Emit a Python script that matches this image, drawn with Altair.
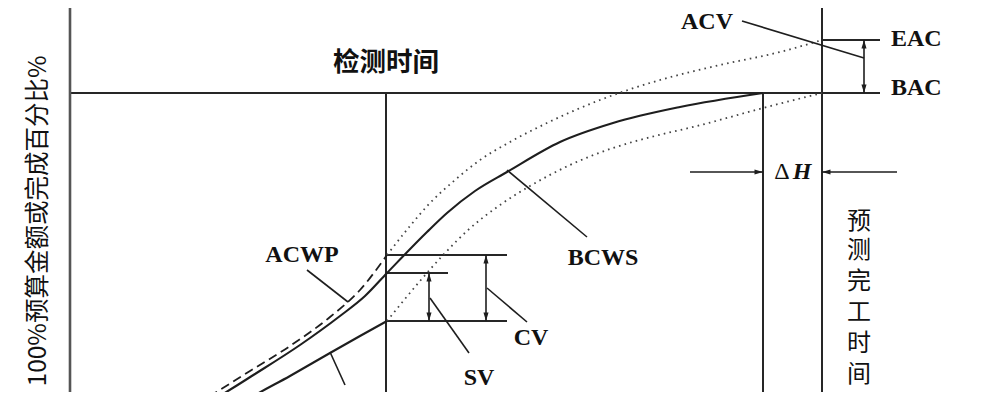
import altair as alt
import pandas as pd

# Schematic earned-value chart.
# t = schedule units (0 at the vertical axis), v = cost units (BAC = 307, EAC = 360)
T_CHECK, T_PLAN, T_FORECAST, T_RIGHT = 316, 693, 752, 810
V_BAC, V_EAC, V_TOP, V_BOTTOM = 307, 360, 395, -10

# cumulative curves
bcws_t = [125, 143, 185, 230, 270, 295, 317, 357, 377, 405, 437, 490, 543, 610, 693]
bcws_v = [-10, 0, 26, 55, 84, 104, 127, 168, 187, 209, 228, 258, 277, 293, 307]
acwp_t = [115, 133, 180, 220, 260, 290, 317]
acwp_v = [-10, 0, 29, 54, 83, 110, 145]
bcwp_t = [162, 177, 220, 260, 290, 317]
bcwp_v = [-10, 0, 24, 47, 64, 79]
# forecasts (dotted)
eac_fc_t = [317, 340, 360, 385, 410, 440, 477, 530, 590, 650, 710, 752]
eac_fc_v = [145, 174, 197, 220, 240, 258, 277, 300, 320, 335, 348, 360]
bac_fc_t = [317, 350, 375, 397, 430, 460, 500, 543, 585, 627, 693, 752]
bac_fc_v = [79, 119, 147, 169, 195, 214, 235, 252, 264, 274, 292, 307]

# structural lines: (name, t1, v1, t2, v2)
frame = [
    ("bac", 0, V_BAC, T_RIGHT, V_BAC),
    ("check", T_CHECK, V_BAC, T_CHECK, V_BOTTOM),
    ("plan", T_PLAN, V_BAC, T_PLAN, V_BOTTOM),
    ("forecast", T_FORECAST, V_TOP, T_FORECAST, V_BOTTOM),
    ("eac", T_FORECAST, V_EAC, T_RIGHT, V_EAC),
    ("lvl_acwp", 317, 145, 437, 145),
    ("lvl_bcws", 317, 127, 378, 127),
    ("lvl_bcwp", 317, 79, 437, 79),
]
axis_line = [("yaxis", 0, V_TOP, 0, V_BOTTOM)]
# arrow shafts and leader lines
thin = [
    ("ar_eac", 794, V_EAC, 794, V_BAC),
    ("ar_sv", 359, 127, 359, 79),
    ("ar_cv", 416, 145, 416, 79),
    ("ar_dh1", 620, 228, T_PLAN, 228),
    ("ar_dh2", 827, 228, T_FORECAST, 228),
    ("ld_acv", 672, 379, 794, 342),
    ("ld_acwp", 237, 130, 278, 98),
    ("ld_bcws", 437, 230, 517, 163),
    ("ld_sv", 360, 102, 399, 47),
    ("ld_cv", 417, 112, 457, 78),
    ("ld_bcwp", 260, 48, 275, 15),
]
# arrow heads: tip position and direction (0 up, 90 right, 180 down, 270 left)
head_t = [794, 794, 359, 359, 416, 416, T_PLAN, T_FORECAST]
head_v = [V_EAC, V_BAC, 127, 79, 145, 79, 228, 228]
head_a = [0, 180, 0, 180, 0, 180, 90, 270]

# labels
lab_text = ["ACV", "ACWP", "BCWS", "SV", "CV", "BCWP"]
lab_t = [637, 232, 533, 409, 461, 270]
lab_v = [378, 145, 142, 22, 62, -4]
side_text = ["EAC", "BAC"]
side_t = [821, 821]
side_v = [361, 312]
vert_chars = list("预测完工时间")
vert_v = [178, 149, 118, 87, 56, 25]

rows = []
def add(name, ts, vs, kind):
    for i, (t, v) in enumerate(zip(ts, vs)):
        rows.append({"id": name, "o": i, "t": t, "v": v, "kind": kind})

add("bcws", bcws_t, bcws_v, "curve")
add("bcwp", bcwp_t, bcwp_v, "curve")
add("acwp", acwp_t, acwp_v, "dash")
add("eacfc", eac_fc_t, eac_fc_v, "dot")
add("bacfc", bac_fc_t, bac_fc_v, "dot")
for name, t1, v1, t2, v2 in frame:
    add(name, [t1, t2], [v1, v2], "frame")
for name, t1, v1, t2, v2 in axis_line:
    add(name, [t1, t2], [v1, v2], "axis")
for name, t1, v1, t2, v2 in thin:
    add(name, [t1, t2], [v1, v2], "thin")
lines = pd.DataFrame(rows)

X = alt.Scale(domain=[-62, 919], nice=False, zero=False)
Y = alt.Scale(domain=[8, 392], nice=False, zero=False)
enc = dict(
    x=alt.X("t:Q", scale=X, axis=None),
    y=alt.Y("v:Q", scale=Y, axis=None),
    detail="id:N",
    order="o:Q",
)
INK = "#1e1e1e"

base = alt.Chart(lines)
frame_l = base.transform_filter(alt.datum.kind == "frame").mark_line(
    color="#262626", strokeWidth=2, clip=True).encode(**enc)
axis_l = base.transform_filter(alt.datum.kind == "axis").mark_line(
    color="#555555", strokeWidth=2.6, clip=True).encode(**enc)
curve_l = base.transform_filter(alt.datum.kind == "curve").mark_line(
    color=INK, strokeWidth=2.1, interpolate="monotone", clip=True).encode(**enc)
dash_l = base.transform_filter(alt.datum.kind == "dash").mark_line(
    color=INK, strokeWidth=1.8, strokeDash=[9, 5], interpolate="monotone", clip=True).encode(**enc)
dot_l = base.transform_filter(alt.datum.kind == "dot").mark_line(
    color="#444444", strokeWidth=1.8, strokeDash=[1.6, 4.2], interpolate="monotone", clip=True).encode(**enc)
thin_l = base.transform_filter(alt.datum.kind == "thin").mark_line(
    color=INK, strokeWidth=1.6, clip=True).encode(**enc)

heads = alt.Chart(pd.DataFrame({"t": head_t, "v": head_v, "a": head_a})).mark_point(
    shape="M0,0L-0.6,2L0.6,2Z", filled=True, size=72, color=INK, opacity=1, strokeWidth=0
).encode(
    x=alt.X("t:Q", scale=X, axis=None),
    y=alt.Y("v:Q", scale=Y, axis=None),
    angle=alt.Angle("a:Q", scale=None),
)

SERIF = "Liberation Serif"
CJK = "Noto Sans CJK SC"
txt_enc = dict(x=alt.X("t:Q", scale=X, axis=None), y=alt.Y("v:Q", scale=Y, axis=None), text="s:N")

labels = alt.Chart(pd.DataFrame({"t": lab_t, "v": lab_v, "s": lab_text})).mark_text(
    font=SERIF, fontWeight="bold", fontSize=24, color="#111111", baseline="middle", align="center"
).encode(**txt_enc)
side = alt.Chart(pd.DataFrame({"t": side_t, "v": side_v, "s": side_text})).mark_text(
    font=SERIF, fontWeight="bold", fontSize=24, color="#111111", baseline="middle", align="left"
).encode(**txt_enc)
delta = alt.Chart(pd.DataFrame({"t": [712], "v": [228], "s": ["Δ"]})).mark_text(
    font=SERIF, fontSize=24, color="#111111", baseline="middle", align="center"
).encode(**txt_enc)
hsym = alt.Chart(pd.DataFrame({"t": [732], "v": [228], "s": ["H"]})).mark_text(
    font=SERIF, fontSize=24, fontWeight="bold", fontStyle="italic", color="#111111",
    baseline="middle", align="center"
).encode(**txt_enc)
check_lab = alt.Chart(pd.DataFrame({"t": [T_CHECK], "v": [337], "s": ["检测时间"]})).mark_text(
    font=CJK, fontSize=26.5, fontWeight="bold", color="#111111", baseline="middle", align="center"
).encode(**txt_enc)
ytitle = alt.Chart(pd.DataFrame({"t": [-31], "v": [179], "s": ["100%预算金额或完成百分比%"]})).mark_text(
    font=CJK, fontSize=24.5, color="#111111", baseline="middle", align="center", angle=270
).encode(**txt_enc)
vert = alt.Chart(pd.DataFrame({"t": [789] * len(vert_chars), "v": vert_v, "s": vert_chars})).mark_text(
    font=CJK, fontSize=24, color="#111111", baseline="middle", align="center"
).encode(**txt_enc)

chart = alt.layer(
    frame_l, axis_l, curve_l, dash_l, dot_l, thin_l, heads,
    labels, side, delta, hsym, check_lab, ytitle, vert
).properties(
    width=981, height=384, padding=0, autosize=alt.AutoSizeParams(type="none"),
    background="white",
).configure_view(strokeWidth=0)

chart.save("out.html", embed_options={"renderer": "svg", "actions": False})
